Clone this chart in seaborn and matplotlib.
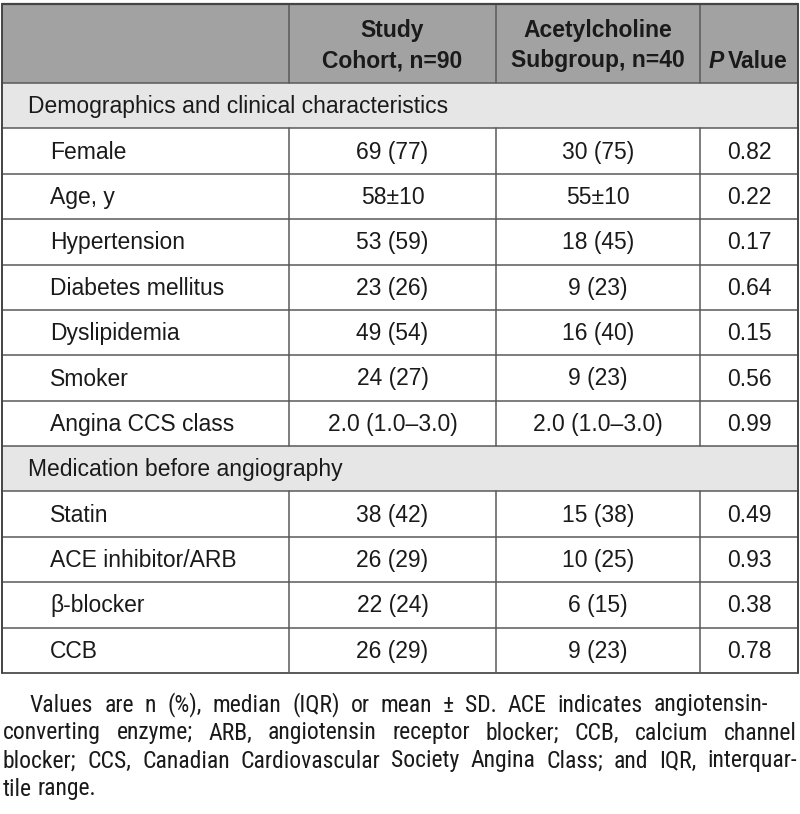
import pandas as pd
import matplotlib.pyplot as plt
import seaborn as sns
from matplotlib import font_manager
from matplotlib.patches import Rectangle

# -------------------------------
# STEP 1: Table content
header_cols = ["Study\nCohort, n=90", "Acetylcholine\nSubgroup, n=40"]
section_titles = ["Demographics and clinical characteristics", "Medication before angiography"]

demo_labels = ["Female", "Age, y", "Hypertension", "Diabetes mellitus",
               "Dyslipidemia", "Smoker", "Angina CCS class"]
demo_cohort = ["69 (77)", "58±10", "53 (59)", "23 (26)", "49 (54)", "24 (27)", "2.0 (1.0–3.0)"]
demo_ach = ["30 (75)", "55±10", "18 (45)", "9 (23)", "16 (40)", "9 (23)", "2.0 (1.0–3.0)"]
demo_p = ["0.82", "0.22", "0.17", "0.64", "0.15", "0.56", "0.99"]

med_labels = ["Statin", "ACE inhibitor/ARB", "β-blocker", "CCB"]
med_cohort = ["38 (42)", "26 (29)", "22 (24)", "26 (29)"]
med_ach = ["15 (38)", "10 (25)", "6 (15)", "9 (23)"]
med_p = ["0.49", "0.93", "0.38", "0.78"]

footnote_lines = [
    "Values are n (%), median (IQR) or mean ± SD. ACE indicates angiotensin-",
    "converting enzyme; ARB, angiotensin receptor blocker; CCB, calcium channel",
    "blocker; CCS, Canadian Cardiovascular Society Angina Class; and IQR, interquar-",
    "tile range.",
]

# rows of the body: section rows and data rows
rows = [("section", section_titles[0], "", "", "")]
rows += [("data", *r) for r in zip(demo_labels, demo_cohort, demo_ach, demo_p)]
rows += [("section", section_titles[1], "", "", "")]
rows += [("data", *r) for r in zip(med_labels, med_cohort, med_ach, med_p)]
df = pd.DataFrame(rows, columns=["kind", "label", "cohort", "ach", "p"])

# -------------------------------
# STEP 2: Style / layout
sns.set_theme(style="white")
plt.rcParams["font.family"] = ["Liberation Sans", "DejaVu Sans"]

# footnote is set in a condensed face if one is around
installed = {f.name for f in font_manager.fontManager.ttflist}
narrow = "Liberation Sans"
for cand in ["Liberation Sans Narrow", "Roboto Condensed", "Open Sans Condensed",
             "Noto Sans Condensed", "DejaVu Sans Condensed"]:
    if cand in installed:
        narrow = cand
        break

HEADER_BG = "#a2a2a2"
SECTION_BG = "#e6e6e6"
LINE = "#5a5a5a"
INK = "#1a1a1a"
FS = 16.5

col_edges = [2, 289, 496, 700, 798]
top, header_bottom, table_bottom = 4, 83, 673
row_h = (table_bottom - header_bottom) / len(df)

fig = plt.figure(figsize=(8, 8.14), dpi=100)
ax = fig.add_axes([0, 0, 1, 1])
ax.set_xlim(0, 800)
ax.set_ylim(814, 0)
ax.axis("off")

# header
ax.add_patch(Rectangle((col_edges[0], top), col_edges[-1] - col_edges[0],
                       header_bottom - top, facecolor=HEADER_BG, edgecolor="none"))
for i, txt in enumerate(header_cols):
    xc = (col_edges[i + 1] + col_edges[i + 2]) / 2
    for j, line in enumerate(txt.split("\n")):
        ax.text(xc, 31 + j * 30, line, ha="center", va="center",
                fontsize=FS, fontweight="bold", color=INK)
ax.text(724, 61, "P", ha="right", va="center", fontsize=FS,
        fontweight="bold", fontstyle="italic", color=INK)
ax.text(728, 61, "Value", ha="left", va="center", fontsize=FS,
        fontweight="bold", color=INK)

# body
for k, row in df.iterrows():
    y0 = header_bottom + k * row_h
    yc = y0 + row_h / 2 + 1
    if row["kind"] == "section":
        ax.add_patch(Rectangle((col_edges[0], y0), col_edges[-1] - col_edges[0], row_h,
                               facecolor=SECTION_BG, edgecolor="none"))
        ax.text(28, yc, row["label"], ha="left", va="center", fontsize=FS, color=INK)
    else:
        ax.text(50, yc, row["label"], ha="left", va="center", fontsize=FS, color=INK)
        for c, key in enumerate(["cohort", "ach", "p"]):
            xc = (col_edges[c + 1] + col_edges[c + 2]) / 2
            ax.text(xc, yc, row[key], ha="center", va="center", fontsize=FS, color=INK)
        for x in col_edges[1:-1]:
            ax.plot([x, x], [y0, y0 + row_h], color=LINE, lw=1.1)

# grid lines
for x in col_edges[1:-1]:
    ax.plot([x, x], [top, header_bottom], color=LINE, lw=1.1)
for k in range(len(df) + 1):
    y = header_bottom + k * row_h
    ax.plot([col_edges[0], col_edges[-1]], [y, y], color=LINE, lw=1.1)
ax.plot([col_edges[0], col_edges[-1]], [top, top], color="#444444", lw=1.6)
ax.plot([col_edges[0], col_edges[-1]], [table_bottom, table_bottom], color=LINE, lw=1.3)
for x in (col_edges[0], col_edges[-1]):
    ax.plot([x, x], [top, table_bottom], color="#444444", lw=1.4)

# -------------------------------
# STEP 3: Justified footnote
renderer = fig.canvas.get_renderer()

# pick a size so the longest line just fits
fn_fs = 17.0
probe = ax.text(0, 0, footnote_lines[2], fontsize=fn_fs, family=[narrow, "DejaVu Sans"])
while probe.get_window_extent(renderer).width > 788 and fn_fs > 10:
    fn_fs -= 0.25
    probe.set_fontsize(fn_fs)
probe.remove()

line_y = [705, 733, 761, 789]
for i, line in enumerate(footnote_lines):
    x0 = 30 if i == 0 else 3
    x1 = 768 if i == 0 else 797
    words = line.split(" ")
    texts = [ax.text(0, line_y[i], w, ha="left", va="center", fontsize=fn_fs,
                     family=[narrow, "DejaVu Sans"], color=INK) for w in words]
    widths = [t.get_window_extent(renderer).width for t in texts]
    if i == len(footnote_lines) - 1:
        gap = fn_fs * 0.3
    else:
        gap = (x1 - x0 - sum(widths)) / (len(words) - 1)
    x = x0
    for t, w in zip(texts, widths):
        t.set_x(x)
        x += w + gap

fig.savefig("out.png", dpi=100, facecolor="white")
